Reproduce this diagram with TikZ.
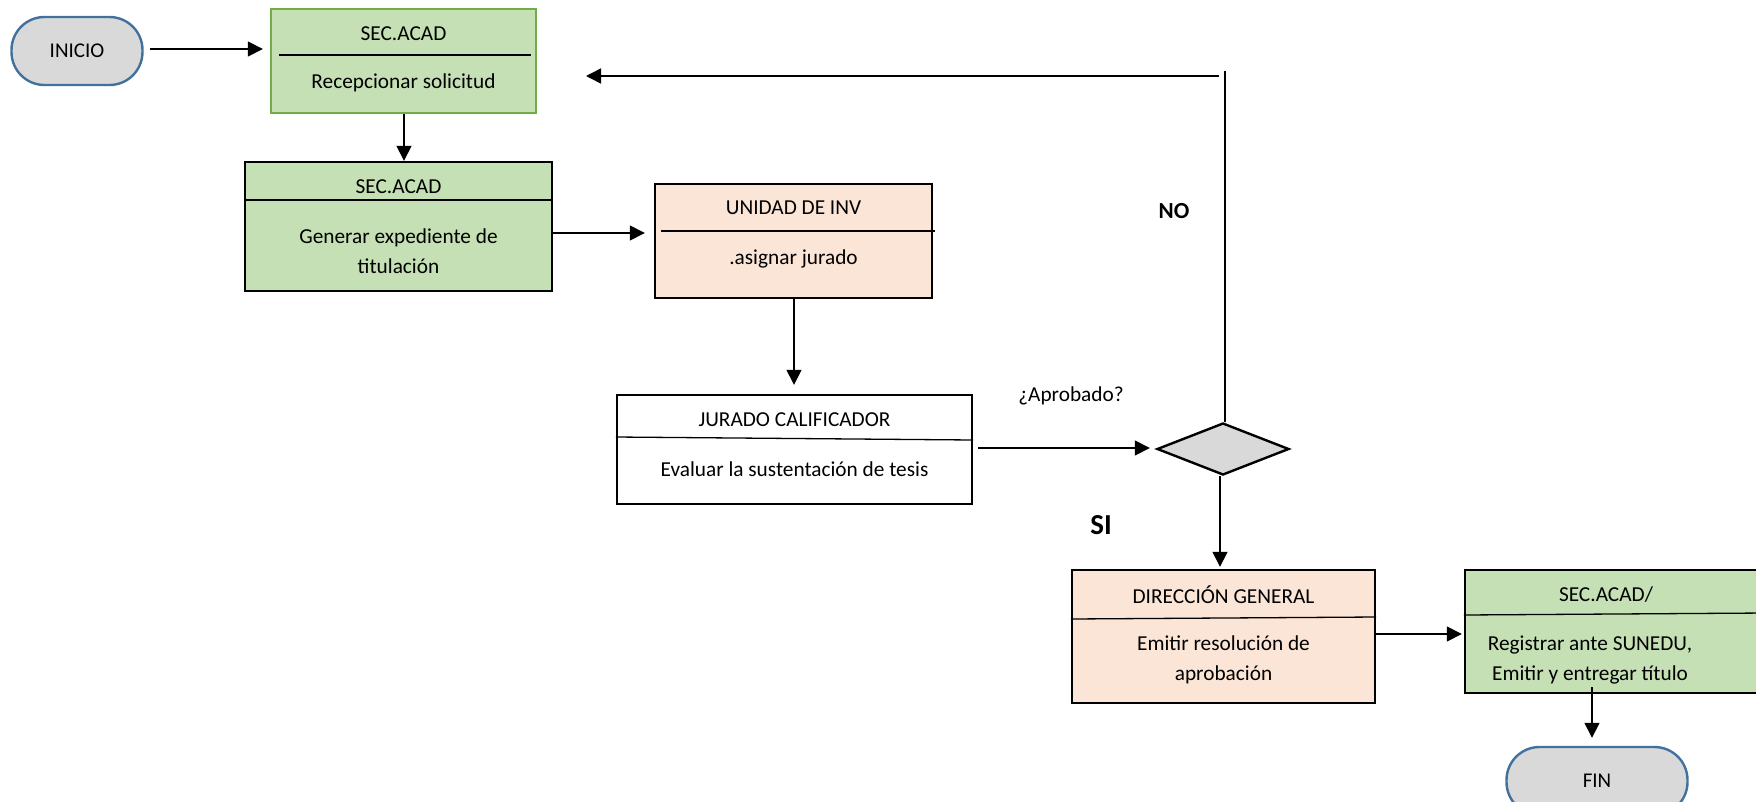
\documentclass[tikz,border=0pt]{standalone}
\usepackage{fontspec}
\setmainfont{Carlito}
\usetikzlibrary{shapes.geometric,arrows.meta,calc}

\definecolor{greenfill}{HTML}{C5E0B4}
\definecolor{greenline}{HTML}{70AD47}
\definecolor{peachfill}{HTML}{FBE5D6}
\definecolor{termfill}{HTML}{D9D9D9}
\definecolor{termline}{HTML}{41719C}

\tikzset{
  box/.style={draw=black, line width=2.4pt, rectangle, inner sep=0pt},
  greenbox/.style={box, fill=greenfill},
  peachbox/.style={box, fill=peachfill},
  whitebox/.style={box, fill=white},
  terminal/.style={draw=termline, line width=2.4pt, fill=termfill, rectangle,
    rounded corners=33pt, minimum width=#1, minimum height=68pt, inner sep=0pt,
    font=\fontsize{21}{25}\selectfont},
  txt/.style={inner sep=0pt, font=\fontsize{21.3}{29.5}\selectfont, align=center},
  divider/.style={line width=1.3pt},
  arr/.style={line width=1.5pt, -{Triangle[length=15pt,width=15pt]}},
  decision/.style={diamond, draw=black, line width=2.4pt, fill=termfill,
    minimum width=132pt, minimum height=52pt, aspect=2.54, inner sep=0pt},
}

\begin{document}
\begin{tikzpicture}[x=1pt, y=-1pt]
\useasboundingbox (0,0) rectangle (1756,801);
\begin{scope}
\clip (0,0) rectangle (1756,801);

% terminals
\node[terminal=131pt] (ini) at (77,51) {INICIO};
\node[terminal=181pt] (fin) at (1597,781) {FIN};

% reception of the request
\node[greenbox, draw=greenline, minimum width=265pt, minimum height=104pt] (sec1) at (403.5,61) {};
\draw[divider] (279,55) -- (531,55);
\node[txt] (sec1t) at (403.5,34) {SEC.ACAD};
\node[txt] (sec1b) at (403.5,83) {Recepcionar solicitud};

% file generation
\node[greenbox, minimum width=307pt, minimum height=129pt] (sec2) at (398.5,226.5) {};
\draw[divider] (sec2.west |- 0,200) -- (sec2.east |- 0,200);
\node[txt] (sec2t) at (398.5,187) {SEC.ACAD};
\node[txt] (sec2b) at (398.5,251) {Generar expediente de\\titulación};

% jury assignment
\node[peachbox, minimum width=277pt, minimum height=114pt] (uni) at (793.5,241) {};
\draw[divider] (661,231) -- (935,231);
\node[txt] (unit) at (793.5,208) {UNIDAD DE INV};
\node[txt] (unib) at (793.5,259) {.asignar jurado};

% thesis defence
\node[whitebox, minimum width=355pt, minimum height=109pt] (jur) at (794.5,449.5) {};
\draw[divider] (jur.west |- 0,437) -- (jur.east |- 0,440);
\node[txt] (jurt) at (794.5,420) {JURADO CALIFICADOR};
\node[txt] (jurb) at (794.5,469) {Evaluar la sustentación de tesis};

% decision
\node[decision] (dia) at (1223,449) {};
\node[txt] (q) at (1071,396) {¿Aprobado?};
\node[txt, font=\fontsize{23}{27}\selectfont\bfseries] (no) at (1174,211) {NO};
\node[txt, font=\fontsize{29}{33}\selectfont\bfseries] (si) at (1101,525) {SI};

% resolution
\node[peachbox, minimum width=303pt, minimum height=133pt] (dir) at (1223.5,636.5) {};
\draw[divider] (dir.west |- 0,619) -- (dir.east |- 0,617);
\node[txt] (dirt) at (1223.5,595) {DIRECCIÓN GENERAL};
\node[txt] (dirb) at (1223.5,660) {Emitir resolución de\\aprobación};

% registration and title
\node[greenbox, minimum width=300pt, minimum height=123pt] (sec3) at (1615,631.5) {};
\draw[divider] (sec3.west |- 0,615) -- (sec3.east |- 0,613);
\node[txt] (sec3t) at (1606,595) {SEC.ACAD/};
\node[txt] (sec3b) at (1590,660) {Registrar ante SUNEDU,\\Emitir y entregar título};

% connectors
\coordinate (notop) at (1225,71);
\coordinate (nobend) at (1219,76);
\coordinate (noend) at (586,76);
\coordinate (finstart) at (1592,687);
\draw[arr] ([xshift=6pt]ini.east |- 0,49) -- ([xshift=-7pt]sec1.west |- 0,49);
\draw[arr] (sec1.south -| 404,0) -- (sec2.north -| 404,0);
\draw[arr] (sec2.east |- 0,233) -- ([xshift=-9pt]uni.west |- 0,233);
\draw[arr] (uni.south -| 794,0) -- ([yshift=9pt]jur.north -| 794,0);
\draw[arr] ([xshift=5pt]jur.east |- 0,448) -- ([xshift=-6pt]dia.west |- 0,448);
\draw[arr] (dia.south -| 1220,0) -- ([yshift=2pt]dir.north -| 1220,0);
\draw[line width=1.5pt] (dia.north -| notop) -- (notop);
\draw[arr] (nobend) -- (noend);
\draw[arr] (dir.east |- 0,634) -- ([xshift=-2pt]sec3.west |- 0,634);
\draw[arr] (finstart) -- ([yshift=8pt]fin.north -| finstart);
\end{scope}
\end{tikzpicture}
\end{document}
